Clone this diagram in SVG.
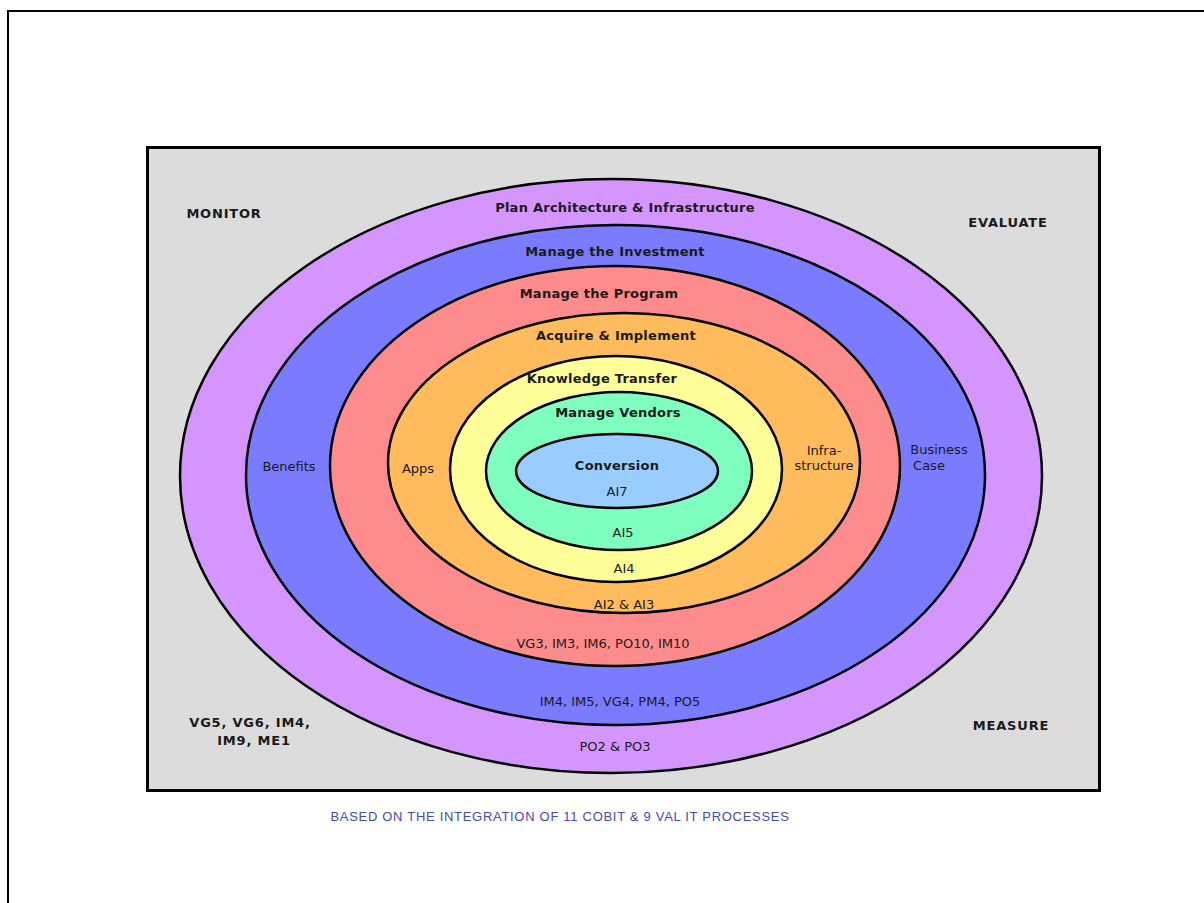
<svg xmlns="http://www.w3.org/2000/svg" width="1204" height="903" viewBox="0 0 1204 903">
<style>
.e{stroke:#000;stroke-width:2.5}
.b{font-family:"DejaVu Sans",Verdana,sans-serif;font-weight:bold;font-size:13px;letter-spacing:0.25px;fill:#1a1a1a;text-anchor:middle}
.k{letter-spacing:0.8px}
.r{font-family:"DejaVu Sans",Verdana,sans-serif;font-size:13px;fill:#1a1a1a;text-anchor:middle}
.c{font-family:"Liberation Sans",Arial,sans-serif;font-size:13px;letter-spacing:0.7px;fill:#4a4aa8;text-anchor:middle}
</style>
<rect width="1204" height="903" fill="#fff"/>
<rect x="8" y="11" width="1210" height="910" fill="none" stroke="#000" stroke-width="2"/>
<rect id="frame" x="147.5" y="147.5" width="952" height="643" fill="#dcdcdc" stroke="#000" stroke-width="3"/>
<g id="ring-plan"><ellipse class="e" cx="611" cy="476" rx="431" ry="297" fill="#d495ff"/></g>
<g id="ring-investment"><ellipse class="e" cx="615.5" cy="475" rx="369.5" ry="250" fill="#7b7bff"/></g>
<g id="ring-program"><ellipse class="e" cx="615" cy="466" rx="285" ry="200" fill="#ff8c8c"/></g>
<g id="ring-acquire"><ellipse class="e" cx="624" cy="463" rx="236" ry="150" fill="#ffbb5c"/></g>
<g id="ring-knowledge"><ellipse class="e" cx="616" cy="469" rx="166" ry="113" fill="#ffff99"/></g>
<g id="ring-vendors"><ellipse class="e" cx="619" cy="471" rx="133" ry="79" fill="#7fffbf"/></g>
<g id="ring-conversion"><ellipse class="e" cx="617" cy="471" rx="101" ry="37" fill="#99ccff"/></g>
<g id="connectors"></g>
<g id="labels">
<text class="b k" x="224" y="218">MONITOR</text>
<text class="b k" x="1008" y="227">EVALUATE</text>
<text class="b k" x="1011" y="730">MEASURE</text>
<text class="b k" x="250" y="727">VG5, VG6, IM4,</text>
<text class="b k" x="254" y="745">IM9, ME1</text>
<text class="b" x="625" y="212">Plan Architecture &amp; Infrastructure</text>
<text class="b" x="615" y="256">Manage the Investment</text>
<text class="b" x="599" y="298">Manage the Program</text>
<text class="b" x="616" y="340">Acquire &amp; Implement</text>
<text class="b" x="602" y="383">Knowledge Transfer</text>
<text class="b" x="618" y="417">Manage Vendors</text>
<text class="b" x="617" y="470">Conversion</text>
<text class="r" x="617" y="496">AI7</text>
<text class="r" x="623" y="537">AI5</text>
<text class="r" x="624" y="573">AI4</text>
<text class="r" x="624" y="609">AI2 &amp; AI3</text>
<text class="r" x="603" y="648">VG3, IM3, IM6, PO10, IM10</text>
<text class="r" x="620" y="706">IM4, IM5, VG4, PM4, PO5</text>
<text class="r" x="615" y="751">PO2 &amp; PO3</text>
<text class="r" x="289" y="471">Benefits</text>
<text class="r" x="418" y="473">Apps</text>
<text class="r" x="824" y="455">Infra-</text>
<text class="r" x="824" y="470">structure</text>
<text class="r" x="939" y="454">Business</text>
<text class="r" x="929" y="470">Case</text>
<text class="c" x="560" y="821">BASED ON THE INTEGRATION OF 11 COBIT &amp; 9 VAL IT PROCESSES</text>
</g>
</svg>
